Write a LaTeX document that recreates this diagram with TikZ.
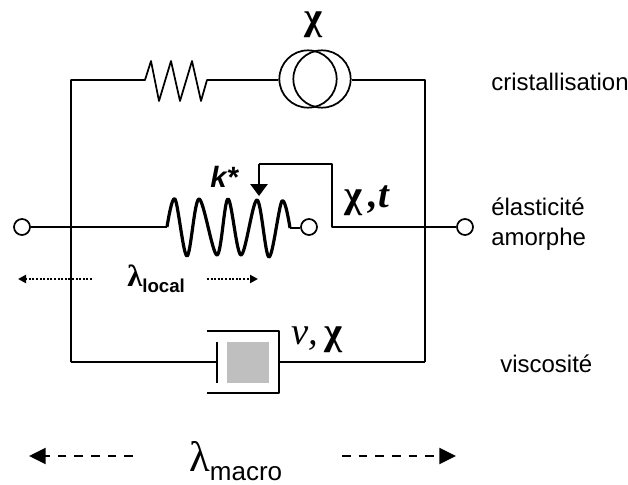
\documentclass[tikz,border=0pt]{standalone}
\usepackage{fontspec}
\setmainfont{Liberation Sans}
\newfontfamily\grk{Liberation Serif}
\usetikzlibrary{arrows.meta,shapes.geometric}

\begin{document}
\begin{tikzpicture}[
  x=0.75pt, y=-0.75pt,
  wire/.style={line width=1.3pt, line join=round},
  thick wire/.style={line width=2.4pt, line join=round},
  term/.style={circle, draw, line width=1.3pt, fill=white, minimum size=12pt, inner sep=0pt},
  src/.style={circle, draw, line width=1.3pt, minimum size=43pt, inner sep=0pt},
  side/.style={anchor=base west, font=\fontsize{18}{20}\selectfont, inner sep=0pt},
  sym/.style={anchor=base west, font=\fontsize{29}{30}\selectfont\grk\bfseries, inner sep=0pt},
  dotted arrow/.style={-{Triangle[length=6pt,width=6pt]}, line width=1.5pt, dash pattern=on 1.5pt off 1.2pt},
  dashed arrow/.style={-{Triangle[length=12.5pt,width=12pt]}, line width=1.6pt, dash pattern=on 6.5pt off 6pt}
]
\useasboundingbox (0,0) rectangle (628,485);

\coordinate (tl) at (71,80);
\coordinate (tr) at (425,80);
\coordinate (bl) at (71,362);
\coordinate (br) at (425,362);
\coordinate (rin) at (145,80);
\coordinate (rout) at (207,80);
\node[src] (srca) at (308,79) {};
\node[src] (srcb) at (322,79) {};

\node[term] (in) at (22,227) {};
\node[term] (mid) at (309,227) {};
\node[term] (out) at (465,227) {};
\coordinate (kin) at (167,227);
\coordinate (kout) at (290,228);
\coordinate (tap) at (332,227);
\coordinate (tapup) at (332,164);
\coordinate (tapleft) at (259,164);
\coordinate (taptip) at (259,196);

\coordinate (pistl) at (217,362);
\coordinate (pistr) at (279,362);

% top branch
\draw[wire] (bl) -- (tl) -- (rin) -- (151,61) -- (159,101) -- (171,61) -- (180,101) -- (192,61) -- (201,101) -- (rout) -- (rout -| srca.west);
\draw[wire] (tr -| srcb.east) -- (tr) -- (br);

% spring branch
\draw[wire] (in) -- (kin);
\draw[thick wire] plot[smooth, tension=0.55] coordinates {(167,227) (175,199) (187,256) (199,199) (217,255) (228,199) (241,255) (257,200) (269,257) (282,201) (290,228)};
\draw[wire] (kout) -- (mid.west |- kout);
\draw[wire] (out) -- (tap) -- (tapup) -- (tapleft);
\draw[wire, -{Triangle[length=9pt,width=13pt]}] (tapleft) -- (taptip);

% dashpot
\fill[black!25] (227,342) rectangle (269,383);
\draw[wire] (bl) -- (pistl);
\draw[wire] (217,342) -- (217,383);
\draw[wire] (207,331) -- (279,331) -- (279,393) -- (207,393);
\draw[wire] (pistr) -- (br);

\node[sym] (chitop) at (304,30) {χ};
\node[anchor=base west, inner sep=0pt, font=\fontsize{22}{24}\selectfont\bfseries\itshape] (kstar) at (210,187) {k*};
\node[sym] (chit) at (344,207) {χ\,\textit{,t}};
\node[sym] (nuchi) at (291,344) {{\mdseries\itshape ν,}\,χ};

\node[side] (cris) at (491,90) {cristallisation};
\node[side] (elas) at (491,215) {élasticité};
\node[side] (amor) at (491,245) {amorphe};
\node[side] (visc) at (500,372) {viscosité};

% local stretch
\coordinate (lla) at (92,279);
\coordinate (llb) at (18,279);
\coordinate (lra) at (207,279);
\coordinate (lrb) at (258,279);
\draw[dotted arrow] (lla) -- (llb);
\draw[dotted arrow] (lra) -- (lrb);
\node[anchor=base west, inner sep=0pt] (llocal) at (127,286) {\fontsize{23}{24}\selectfont\grk\bfseries λ\raisebox{-4.5pt}{\fontsize{14}{16}\selectfont\rmfamily\bfseries local}};

% macro stretch
\coordinate (mla) at (133,456);
\coordinate (mlb) at (29,456);
\coordinate (mra) at (342,456);
\coordinate (mrb) at (456,456);
\draw[dashed arrow] (mla) -- (mlb);
\draw[dashed arrow] (mra) -- (mrb);
\node[anchor=base west, inner sep=0pt] (lmacro) at (189,471) {\fontsize{32}{34}\selectfont\grk λ\raisebox{-7pt}{\fontsize{19.5}{21}\selectfont\rmfamily macro}};
\end{tikzpicture}
\end{document}
